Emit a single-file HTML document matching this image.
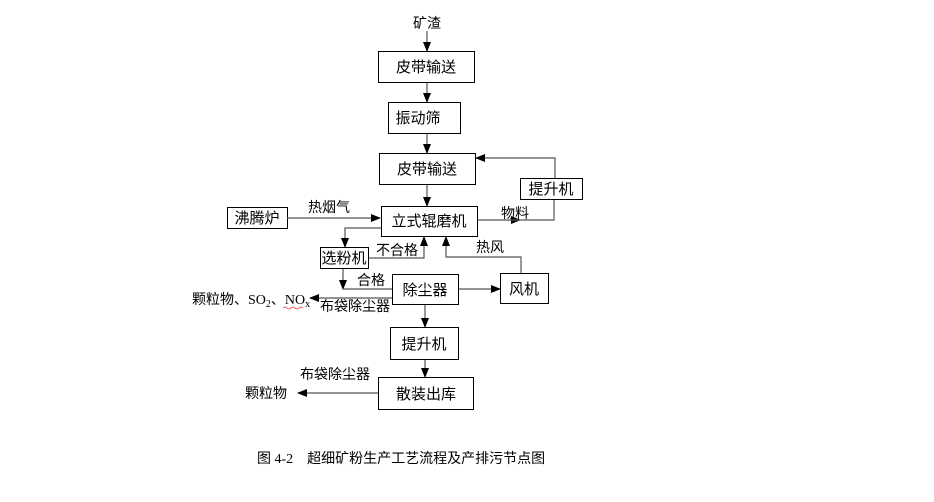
<!DOCTYPE html>
<html><head><meta charset="utf-8"><style>
body{margin:0;background:#fff;}
svg text{font-family:"Liberation Sans","Noto Sans CJK SC",sans-serif;font-size:14px;fill:#000;}
</style></head><body>
<svg width="934" height="497" viewBox="0 0 934 497" xmlns="http://www.w3.org/2000/svg">
<defs><marker id="a" markerWidth="10" markerHeight="10" refX="9" refY="5" orient="auto" markerUnits="userSpaceOnUse"><path d="M0,1 L10,5 L0,9 Z" fill="#000"/></marker></defs>
<g fill="none" stroke="#000" stroke-width="1">
<rect x="378.5" y="51.5" width="96" height="31"/>
<rect x="388.5" y="102.5" width="72" height="31"/>
<rect x="379.5" y="153.5" width="96" height="31"/>
<rect x="520.5" y="178.5" width="62" height="21"/>
<rect x="227.5" y="207.5" width="60" height="21"/>
<rect x="381.5" y="206.5" width="96" height="30"/>
<rect x="320.5" y="247.5" width="48" height="21"/>
<rect x="392.5" y="274.5" width="66" height="30"/>
<rect x="500.5" y="273.5" width="48" height="30"/>
<rect x="390.5" y="327.5" width="68" height="32"/>
<rect x="378.5" y="377.5" width="95" height="32"/>
</g>
<g fill="none" stroke="#555" stroke-width="1.2" marker-end="url(#a)">
<path d="M427 31V51"/>
<path d="M427 83V102"/>
<path d="M427 134V153"/>
<path d="M427 185V206"/>
<path d="M555 178V158H476"/>
<path d="M478 220H520"/>
<path d="M287 218H380"/>
<path d="M381 228H345V247"/>
<path d="M369 258H424V237"/>
<path d="M521 273V257H446V237"/>
<path d="M343 269V289"/>
<path d="M459 289H500"/>
<path d="M392 298H310"/>
<path d="M425 305V327"/>
<path d="M425 360V377"/>
<path d="M378 393H298"/>
</g>
<path d="M510 220H554V200" fill="none" stroke="#555" stroke-width="1.2"/>
<path d="M343 289H392" fill="none" stroke="#555" stroke-width="1.2"/>
<g font-size="15">
<text x="427" y="28" text-anchor="middle">矿渣</text>
<text x="426" y="72" text-anchor="middle" style="font-size:15px">皮带输送</text>
<text x="418" y="123" text-anchor="middle" style="font-size:15px">振动筛</text>
<text x="427" y="174" text-anchor="middle" style="font-size:15px">皮带输送</text>
<text x="551" y="194" text-anchor="middle" style="font-size:15px">提升机</text>
<text x="257" y="223" text-anchor="middle" style="font-size:15px">沸腾炉</text>
<text x="429" y="226" text-anchor="middle" style="font-size:15px">立式辊磨机</text>
<text x="344" y="263" text-anchor="middle" style="font-size:15px">选粉机</text>
<text x="425" y="295" text-anchor="middle" style="font-size:15px">除尘器</text>
<text x="524" y="294" text-anchor="middle" style="font-size:15px">风机</text>
<text x="424" y="349" text-anchor="middle" style="font-size:15px">提升机</text>
<text x="426" y="399" text-anchor="middle" style="font-size:15px">散装出库</text>
</g>
<text x="308" y="212">热烟气</text>
<text x="501" y="218">物料</text>
<text x="376" y="255">不合格</text>
<text x="476" y="252">热风</text>
<text x="357" y="285">合格</text>
<text x="320" y="311">布袋除尘器</text>
<text x="192" y="304">颗粒物、<tspan font-family="Liberation Serif">SO</tspan><tspan font-family="Liberation Serif" font-size="10" dy="3">2</tspan><tspan dy="-3">、</tspan><tspan font-family="Liberation Serif">NO</tspan><tspan font-family="Liberation Serif" font-size="10" dy="3">x</tspan></text>
<path d="M283 308q2-2 4 0t4 0t4 0t4 0t4 0" fill="none" stroke="#e33" stroke-width="0.8"/>
<text x="300" y="379">布袋除尘器</text>
<text x="245" y="398">颗粒物</text>
<text x="257" y="463"><tspan font-family="Liberation Serif">图 4-2</tspan><tspan dx="14">超细矿粉生产工艺流程及产排污节点图</tspan></text>
</svg>
</body></html>
